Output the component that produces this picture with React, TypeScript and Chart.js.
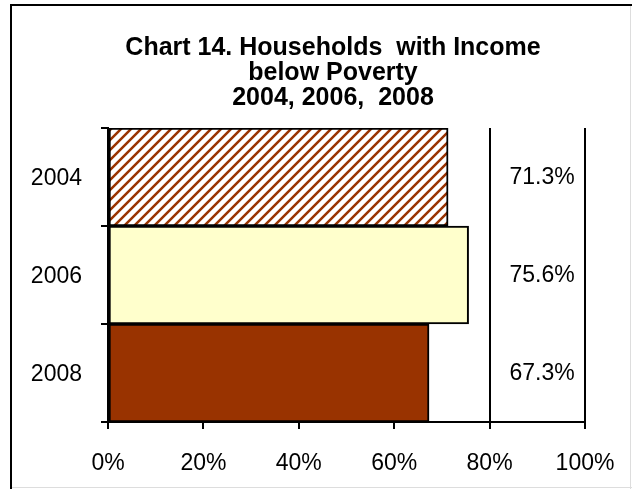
import React, { useEffect, useRef } from "react";
import { Chart, registerables } from "chart.js";

Chart.register(...registerables);

const categories = ["2004", "2006", "2008"];
const values = [71.3, 75.6, 67.3];
const valueLabels = ["71.3%", "75.6%", "67.3%"];
const xTicks = [0, 20, 40, 60, 80, 100];
const titleLines = ["Chart 14. Households  with Income", "below Poverty", "2004, 2006,  2008"];

const BROWN = "#993300";
const CREAM = "#FFFFCC";
const FONT = "'Liberation Sans', Arial, sans-serif";

function makeHatch(): CanvasPattern | string {
  const p = 10;
  const c = document.createElement("canvas");
  c.width = p;
  c.height = p;
  const g = c.getContext("2d");
  if (!g) return BROWN;
  g.fillStyle = "#ffffff";
  g.fillRect(0, 0, p, p);
  g.strokeStyle = BROWN;
  g.lineWidth = 2.5;
  g.beginPath();
  g.moveTo(-p, 2 * p);
  g.lineTo(2 * p, -p);
  g.moveTo(-p, p);
  g.lineTo(p, -p);
  g.moveTo(0, 2 * p);
  g.lineTo(2 * p, 0);
  g.stroke();
  const pat = g.createPattern(c, "repeat");
  return pat || BROWN;
}

const framePlugin = {
  id: "frame",
  beforeDraw(chart: any) {
    const { ctx, width, height } = chart;
    ctx.save();
    ctx.fillStyle = "#ffffff";
    ctx.fillRect(0, 0, width, height);
    ctx.strokeStyle = "#dddddd";
    ctx.lineWidth = 1;
    ctx.beginPath();
    ctx.moveTo(width - 1.5, 5);
    ctx.lineTo(width - 1.5, height);
    ctx.moveTo(10, height - 1.5);
    ctx.lineTo(width, height - 1.5);
    ctx.stroke();
    ctx.strokeStyle = "#000000";
    ctx.lineWidth = 2;
    ctx.beginPath();
    ctx.moveTo(11, height);
    ctx.lineTo(11, 5);
    ctx.lineTo(width, 5);
    ctx.stroke();
    ctx.restore();
  },
};

const titlePlugin = {
  id: "customTitle",
  afterDraw(chart: any) {
    const { ctx } = chart;
    ctx.save();
    ctx.fillStyle = "#000000";
    ctx.font = `bold 25px ${FONT}`;
    ctx.textAlign = "center";
    ctx.textBaseline = "alphabetic";
    const cx = chart.width / 2 + 17;
    titleLines.forEach((line, i) => {
      ctx.fillText(line, cx, 55 + i * 25);
    });
    ctx.restore();
  },
};

const valueLabelPlugin = {
  id: "valueLabels",
  afterDatasetsDraw(chart: any) {
    const { ctx } = chart;
    const meta = chart.getDatasetMeta(0);
    const xScale = chart.scales.x;
    ctx.save();
    ctx.fillStyle = "#000000";
    ctx.font = `23px ${FONT}`;
    ctx.textAlign = "center";
    ctx.textBaseline = "middle";
    meta.data.forEach((bar: any, i: number) => {
      ctx.fillText(valueLabels[i], xScale.getPixelForValue(91), bar.y + 1);
    });
    ctx.restore();
  },
};

export default function App() {
  const ref = useRef<HTMLCanvasElement | null>(null);
  useEffect(() => {
    if (!ref.current) return;
    const hatch = makeHatch();
    const chart = new Chart(ref.current, {
      type: "bar",
      data: {
        labels: categories,
        datasets: [
          {
            data: values,
            backgroundColor: [hatch as any, CREAM, BROWN],
            borderColor: "#000000",
            borderWidth: 2,
            borderSkipped: false,
            barPercentage: 1,
            categoryPercentage: 1,
          },
        ],
      },
      options: {
        indexAxis: "y",
        animation: false,
        responsive: false,
        maintainAspectRatio: false,
        layout: { padding: { left: 0, right: 47, top: 128, bottom: 0 } },
        plugins: {
          legend: { display: false },
          title: { display: false },
          tooltip: { enabled: false },
        },
        scales: {
          x: {
            min: 0,
            max: 100,
            afterBuildTicks(scale: any) {
              scale.ticks = xTicks.map((v) => ({ value: v }));
            },
            afterFit(scale: any) {
              scale.height = 67;
              scale.paddingLeft = 0;
              scale.paddingRight = 0;
            },
            grid: {
              color: "#000000",
              lineWidth: 2,
              tickLength: 7,
              drawOnChartArea: true,
            },
            border: { color: "#000000", width: 2 },
            ticks: {
              color: "#000000",
              font: { family: FONT, size: 23 },
              padding: 21,
              maxRotation: 0,
              callback: (v: any) => `${v}%`,
            },
          },
          y: {
            afterFit(scale: any) {
              scale.width = 108;
            },
            grid: {
              color: "#000000",
              lineWidth: 2,
              tickLength: 7,
              drawOnChartArea: false,
              offset: true,
            },
            border: { color: "#000000", width: 2 },
            ticks: {
              color: "#000000",
              font: { family: FONT, size: 23 },
              padding: 19,
              labelOffset: 2,
            },
          },
        },
      },
      plugins: [framePlugin, titlePlugin, valueLabelPlugin],
    });
    return () => chart.destroy();
  }, []);
  return (
    <div style={{ position: "absolute", left: 0, top: 0, width: 632, height: 489 }}>
      <canvas ref={ref} width={632} height={489} style={{ display: "block", width: 632, height: 489 }} />
    </div>
  );
}
